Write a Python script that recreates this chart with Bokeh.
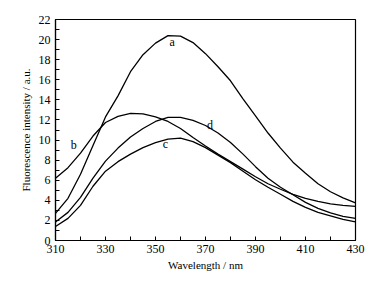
from bokeh.plotting import figure
from bokeh.models import Range1d, FixedTicker, Label
from bokeh.embed import file_html
from bokeh.resources import INLINE

wavelength = [310, 315, 320, 325, 330, 335, 340, 345, 350, 355, 360, 365, 370,
              375, 380, 385, 390, 395, 400, 405, 410, 415, 420, 425, 430]
curve_a = [2.7, 4.2, 6.6, 9.45, 12.3, 14.4, 16.8, 18.5, 19.65, 20.4, 20.35, 19.7, 18.6,
           17.3, 15.9, 14.1, 12.4, 10.7, 9.2, 7.8, 6.7, 5.65, 4.85, 4.25, 3.75]
curve_b = [6.2, 7.25, 8.7, 10.4, 11.75, 12.35, 12.65, 12.6, 12.3, 11.85, 11.15, 10.25, 9.4,
           8.6, 7.85, 7.1, 6.35, 5.65, 5.1, 4.6, 4.2, 3.9, 3.65, 3.5, 3.4]
curve_c = [1.4, 2.2, 3.5, 5.4, 6.9, 7.85, 8.6, 9.25, 9.75, 10.1, 10.2, 9.85, 9.25,
           8.5, 7.75, 6.9, 6.05, 5.3, 4.6, 3.9, 3.3, 2.8, 2.45, 2.1, 1.85]
curve_d = [1.85, 2.8, 4.3, 6.2, 7.9, 9.2, 10.3, 11.15, 11.85, 12.25, 12.25, 11.95, 11.45,
           10.7, 9.75, 8.6, 7.35, 6.2, 5.3, 4.55, 3.8, 3.2, 2.75, 2.4, 2.2]

labels = ["a", "b", "c", "d"]
label_x = [356.7, 317.3, 354.0, 371.8]
label_y = [19.8, 9.55, 9.6, 11.5]

x_ticks = [310, 330, 350, 370, 390, 410, 430]
x_minor = [320, 340, 360, 380, 400, 420]
y_ticks = list(range(0, 23, 2))
y_minor = list(range(1, 22, 2))

FONT = "Liberation Serif"

p = figure(width=380, height=276, output_backend="svg", toolbar_location=None,
           x_range=Range1d(310, 430), y_range=Range1d(0, 22),
           min_border_left=55, min_border_right=25, min_border_top=19, min_border_bottom=36)
p.background_fill_color = "white"
p.border_fill_color = "white"
p.outline_line_color = "black"
p.outline_line_width = 1.2
p.grid.visible = False

for ys in [curve_a, curve_b, curve_c, curve_d]:
    p.line(wavelength, ys, line_color="black", line_width=1.3, line_join="round")

for t, x, y in zip(labels, label_x, label_y):
    p.add_layout(Label(x=x, y=y, text=t, text_font=FONT, text_font_size="12px",
                       text_align="center", text_baseline="middle", text_color="#000000"))

p.xaxis.ticker = FixedTicker(ticks=x_ticks, minor_ticks=x_minor)
p.yaxis.ticker = FixedTicker(ticks=y_ticks, minor_ticks=y_minor)
for ax in [p.xaxis[0], p.yaxis[0]]:
    ax.axis_line_color = "black"
    ax.axis_line_width = 1.2
    ax.major_tick_in = 4
    ax.major_tick_out = 0
    ax.minor_tick_in = 4
    ax.minor_tick_out = 0
    ax.major_tick_line_color = "black"
    ax.minor_tick_line_color = "black"
    ax.major_label_text_font = FONT
    ax.major_label_text_font_size = "12px"
    ax.major_label_text_color = "black"
    ax.axis_label_text_font = FONT
    ax.axis_label_text_font_size = "11px"
    ax.axis_label_text_font_style = "normal"
    ax.axis_label_text_color = "black"

p.xaxis.axis_label = "Wavelength / nm"
p.yaxis.axis_label = "Fluorescence intensity / a.u."
p.xaxis.major_label_standoff = 4
p.xaxis.axis_label_standoff = 3
p.yaxis.major_label_standoff = 5
p.yaxis.axis_label_standoff = 4

open("out.html", "w").write(file_html(p, INLINE))
